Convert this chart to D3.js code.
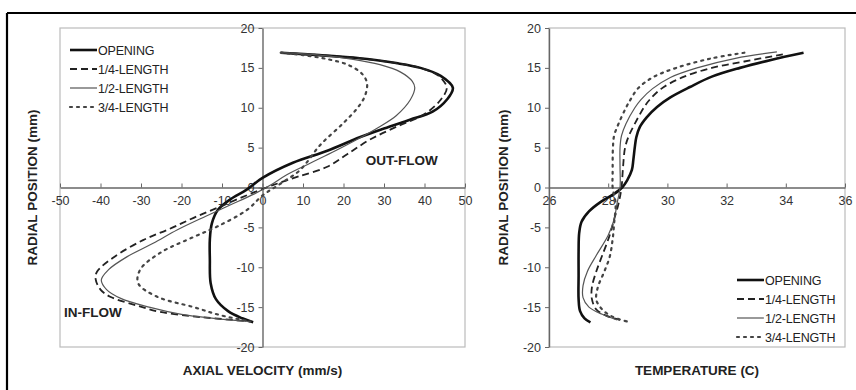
<!DOCTYPE html>
<html>
<head>
<meta charset="utf-8">
<script src="https://cdn.jsdelivr.net/npm/d3@7"></script>
<style>
  body { margin: 0; background: #fff; }
  text { font-family: "Liberation Sans", Arial, sans-serif; fill: #222; }
  .axis text { font-size: 12.5px; fill: #333; }
  .axis path, .axis line { stroke: #666; }
</style>
</head>
<body>
<svg id="chart" width="856" height="390"></svg>
<script>
// series names, in legend order
const seriesNames = ["OPENING", "1/4-LENGTH", "1/2-LENGTH", "3/4-LENGTH"];

// axial velocity (mm/s) vs radial position (mm)
const velOpening = [[4.5,16.9],[14,16.6],[24,16.2],[33,15.6],[39,15],[44,14],[47,12.5],[45.5,11],[42,9.5],[36.4,8.5],[30,7.4],[24,6.3],[16,4.6],[7.5,3.1],[0,1.2],[-4,-0.3],[-8,-1.5],[-11,-2.8],[-12.5,-4.5],[-13,-6.5],[-13,-9],[-12.8,-12],[-11.5,-14],[-8.5,-15.5],[-5,-16.4],[-2.3,-16.9]];
const velQuarter = [[4.5,16.9],[14,16.6],[24,16.2],[33,15.6],[39,15],[43.5,14],[45.5,12.5],[44,11],[40,9.2],[33,7.6],[26.5,6],[21,4.2],[16,2.6],[9,1.4],[4.3,0.6],[1,0],[-4,-1],[-10.5,-2.4],[-17,-3.8],[-23,-5.2],[-29.5,-6.6],[-36.9,-8.8],[-40.9,-10.6],[-41.2,-11.5],[-40,-12.8],[-37.6,-13.7],[-31,-14.8],[-25.3,-15.6],[-18,-16.1],[-12,-16.4],[-3,-16.8]];
const velHalf = [[4.5,16.9],[14,16.6],[22,16.1],[29,15.4],[34,14.5],[37,13.3],[37.6,12.5],[36.5,11],[33,9],[28.5,7.5],[24,6.2],[18,4.6],[12,3.1],[6,1.6],[2,0.3],[-2,-0.8],[-8,-2.2],[-14,-3.6],[-21,-5.3],[-27,-7],[-33.5,-8.7],[-38,-10.3],[-39.8,-11.6],[-38.5,-12.8],[-35,-13.9],[-28,-15],[-20,-15.9],[-12,-16.4],[-3,-16.8]];
const velThreeQ = [[4.5,16.9],[10,16.6],[16,16.1],[21,15.4],[24.5,14.3],[25.8,13.1],[25.3,11.5],[23.5,10],[20,8.1],[14.2,5.3],[9.3,2.2],[4.5,0.5],[0,-1],[-3.8,-2.8],[-11.2,-4.9],[-17,-6.2],[-25.3,-8.2],[-30.2,-10.3],[-30.7,-12],[-26,-13.7],[-17,-15],[-10.5,-16],[-3,-16.8]];

// temperature (C) vs radial position (mm)
const tempOpening = [[34.6,16.9],[33.5,16],[32.45,15],[31.5,13.9],[30.76,12.6],[30.1,11.3],[29.65,10.1],[29.3,8.8],[29.07,7.6],[28.95,6.3],[28.9,5.1],[28.85,3.5],[28.8,2.2],[28.64,0.9],[28.47,0],[28.2,-0.8],[27.75,-1.8],[27.35,-3],[27.1,-4.3],[27.02,-5.7],[27,-8],[27,-11],[27,-14],[27.05,-15.5],[27.2,-16.4],[27.4,-16.9]];
const tempQuarter = [[33.9,16.7],[32.6,15.8],[31.5,15],[30.5,13.8],[29.8,12.4],[29.4,11],[29.2,10],[28.9,8],[28.7,6.5],[28.57,5],[28.5,2.5],[28.45,0],[28.35,-2],[28.2,-4],[28.05,-6],[27.8,-8.5],[27.6,-10.5],[27.45,-12.5],[27.45,-14],[27.6,-15.3],[27.95,-16.1],[28.4,-16.6]];
const tempHalf = [[33.7,17],[32.3,16.2],[31,15],[30.1,13.8],[29.5,12.4],[29.1,11],[28.9,10],[28.6,8],[28.45,6.5],[28.4,5],[28.4,2.5],[28.4,0],[28.3,-2],[28.2,-4],[28.0,-6],[27.6,-8.5],[27.3,-10.5],[27.15,-12.3],[27.15,-13.8],[27.35,-15],[27.8,-15.9],[28.3,-16.6]];
const tempThreeQ = [[32.6,16.9],[31.5,16.2],[30.3,15],[29.5,13.8],[29,12.4],[28.75,11],[28.6,10],[28.35,8],[28.2,6.5],[28.16,5],[28.15,1.8],[28.15,0],[28.25,-2],[28.2,-4.5],[28.15,-6.5],[28.05,-8.7],[27.85,-10.7],[27.65,-12.5],[27.6,-14.1],[27.8,-15.3],[28.2,-16.3],[28.75,-16.9]];

// tick values
const velTicks = [-50, -40, -30, -20, -10, 0, 10, 20, 30, 40, 50];
const tempTicks = [26, 28, 30, 32, 34, 36];
const radTicks = [-20, -15, -10, -5, 0, 5, 10, 15, 20];

// line style per series
const styles = [
  { width: 2.6, dash: null, color: "#111" },
  { width: 1.8, dash: "7,4", color: "#222" },
  { width: 1.2, dash: null, color: "#555" },
  { width: 2.2, dash: "2,5", color: "#444", cap: "round" }
];

const svg = d3.select("#chart");

// outer frame (top and left only visible)
svg.append("line").attr("x1", 7).attr("x2", 856).attr("y1", 13).attr("y2", 13)
  .attr("stroke", "#000").attr("stroke-width", 2.2);
svg.append("line").attr("x1", 7).attr("x2", 7).attr("y1", 13).attr("y2", 390)
  .attr("stroke", "#000").attr("stroke-width", 2.2);

function panel(opt) {
  const x = d3.scaleLinear().domain(opt.xDomain).range([opt.left, opt.right]);
  const y = d3.scaleLinear().domain([-20, 20]).range([347, 28]);
  const g = svg.append("g");

  // plot area border
  g.append("rect").attr("x", opt.left).attr("y", 28)
    .attr("width", opt.right - opt.left).attr("height", 347 - 28)
    .attr("fill", "none").attr("stroke", "#bbb").attr("stroke-width", 1.2);

  const fmt = d => String(d);

  // horizontal axis drawn at r = 0
  g.append("g").attr("class", "axis")
    .attr("transform", "translate(0," + y(0) + ")")
    .call(d3.axisBottom(x).tickValues(opt.xTicks).tickFormat(fmt)
      .tickSizeInner(-4).tickSizeOuter(0).tickPadding(9))
    .call(a => a.select(".domain").attr("stroke-width", 1.4));

  // vertical axis drawn at opt.yAxisAt
  g.append("g").attr("class", "axis")
    .attr("transform", "translate(" + x(opt.yAxisAt) + ",0)")
    .call(d3.axisLeft(y).tickValues(radTicks).tickFormat(fmt)
      .tickSizeInner(4).tickSizeOuter(0).tickPadding(4))
    .call(a => a.select(".domain").attr("stroke-width", 1.4));

  const line = d3.line()
    .x(d => x(d[0])).y(d => y(d[1]))
    .curve(d3.curveCatmullRom.alpha(0.5));

  opt.series.forEach((s, i) => {
    const st = styles[i];
    g.append("path").datum(s).attr("d", line)
      .attr("fill", "none").attr("stroke", st.color)
      .attr("stroke-width", st.width)
      .attr("stroke-dasharray", st.dash)
      .attr("stroke-linecap", st.cap || "butt");
  });

  // legend
  seriesNames.forEach((name, i) => {
    const st = styles[i];
    const ly = opt.legend[1] + i * 19;
    g.append("line").attr("x1", opt.legend[0]).attr("x2", opt.legend[0] + 27)
      .attr("y1", ly).attr("y2", ly)
      .attr("stroke", st.color).attr("stroke-width", st.width)
      .attr("stroke-dasharray", st.dash)
      .attr("stroke-linecap", st.cap || "butt");
    g.append("text").attr("x", opt.legend[0] + 28).attr("y", ly + 4.5)
      .attr("font-size", 12.5).attr("letter-spacing", -0.2).text(name);
  });

  // axis titles
  g.append("text").attr("x", (opt.left + opt.right) / 2).attr("y", 375)
    .attr("text-anchor", "middle").attr("font-size", 13.5).attr("font-weight", "bold")
    .text(opt.xTitle);
  g.append("text")
    .attr("transform", "translate(" + opt.yTitleX + "," + y(0) + ") rotate(-90)")
    .attr("text-anchor", "middle").attr("font-size", 13.5).attr("font-weight", "bold")
    .text("RADIAL POSITION (mm)");

  return { g, x, y };
}

const left = panel({
  left: 60, right: 465, xDomain: [-50, 50], xTicks: velTicks, yAxisAt: 0,
  series: [velOpening, velQuarter, velHalf, velThreeQ],
  legend: [70, 50], xTitle: "AXIAL VELOCITY (mm/s)", yTitleX: 37
});
left.g.append("text").attr("x", left.x(25.5)).attr("y", left.y(2.8))
  .attr("font-size", 13.5).attr("font-weight", "bold").text("OUT-FLOW");
left.g.append("text").attr("x", left.x(-49)).attr("y", left.y(-16.2))
  .attr("font-size", 13.5).attr("font-weight", "bold").text("IN-FLOW");

panel({
  left: 549, right: 845, xDomain: [26, 36], xTicks: tempTicks, yAxisAt: 26,
  series: [tempOpening, tempQuarter, tempHalf, tempThreeQ],
  legend: [737, 280], xTitle: "TEMPERATURE (C)", yTitleX: 508
});
</script>
</body>
</html>
